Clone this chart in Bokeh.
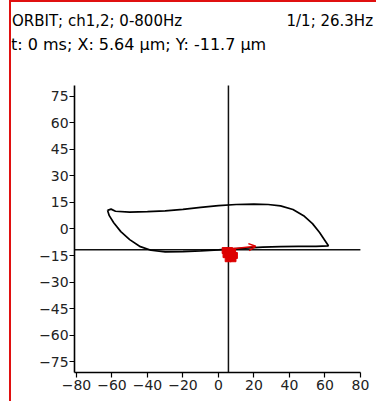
from bokeh.plotting import figure
from bokeh.models import Label, Arrow, OpenHead, FixedTicker
from bokeh.embed import file_html
from bokeh.resources import INLINE

# ---- data ----
orbit_x = [-62.5, -60.5, -58, -50, -40, -30, -20, -10, 0, 10, 20, 28, 35, 42, 48, 53, 57, 60, 62,
           55, 45, 35, 25, 15, 8, 0, -10, -20, -30, -38, -44, -50, -55, -59, -61.5, -62.5]
orbit_y = [10.5, 11.2, 10, 9.5, 9.8, 10.2, 11, 12.2, 13.2, 13.8, 14, 13.8, 13, 11, 7.5, 3, -2, -6.5, -9.5,
           -9.8, -9.8, -10, -10.2, -10.8, -11.2, -11.8, -12.4, -12.8, -12.9, -12, -10, -6, -1.5, 3.5, 7.5, 10.5]
cursor_x = 5.64
cursor_y = -11.7
blob_x = [3.8, 6.3, 8.0, 4.3, 6.8, 9.0, 5.5, 8.2]
blob_y = [-12.2, -12.2, -12.6, -14.5, -14.5, -15.0, -16.8, -16.8]
arrow_start = (8, -11.2)
arrow_end = (21, -9.8)
x_bounds = (-81, 80)
y_bounds = (-81, 81)
x_ticks = [-80, -60, -40, -20, 0, 20, 40, 60, 80]
y_ticks = [-75, -60, -45, -30, -15, 0, 15, 30, 45, 60, 75]
title_left = "ORBIT; ch1,2; 0-800Hz"
title_right = "1/1; 26.3Hz"
cursor_text = "t: 0 ms; X: 5.64 \u03bcm; Y: -11.7 \u03bcm"

FONT = "DejaVu Sans"
FW, FH = 367, 401

p = figure(width=FW, height=FH, output_backend="svg", toolbar_location=None,
           x_range=(-116.6, 90.2), y_range=(-98.5, 127.8),
           min_border_left=0, min_border_right=0, min_border_top=0, min_border_bottom=0)
p.outline_line_color = None
p.xgrid.visible = False
p.ygrid.visible = False

for ax in (p.xaxis[0], p.yaxis[0]):
    ax.axis_line_color = "black"
    ax.axis_line_width = 1.6
    ax.major_tick_line_color = "black"
    ax.major_tick_line_width = 1.2
    ax.major_tick_out = 5
    ax.major_tick_in = 0
    ax.minor_tick_line_color = None
    ax.major_label_text_font = FONT
    ax.major_label_text_font_size = "14px"
    ax.major_label_text_color = "#222222"
p.xaxis[0].ticker = FixedTicker(ticks=x_ticks)
p.yaxis[0].ticker = FixedTicker(ticks=y_ticks)
p.xaxis[0].bounds = x_bounds
p.yaxis[0].bounds = y_bounds
p.xaxis[0].fixed_location = y_bounds[0]
p.yaxis[0].fixed_location = x_bounds[0]
p.xaxis[0].major_label_standoff = 3
p.yaxis[0].major_label_standoff = 1

# cursor cross-hair
p.segment(x0=[cursor_x, x_bounds[0]], y0=[y_bounds[0], cursor_y],
          x1=[cursor_x, x_bounds[1]], y1=[y_bounds[1], cursor_y],
          line_color="#111111", line_width=1.5)

p.line(orbit_x, orbit_y, line_color="black", line_width=1.7)
p.scatter(blob_x, blob_y, marker="square", size=6, fill_color="#dd0000", line_color="#dd0000")
p.add_layout(Arrow(end=OpenHead(size=7, line_color="#dd0000", line_width=1.5),
                   x_start=arrow_start[0], y_start=arrow_start[1],
                   x_end=arrow_end[0], y_end=arrow_end[1],
                   line_color="#dd0000", line_width=1.5))

# Label screen units: x from frame left, y from frame bottom (frame = whole canvas)
for txt, fx, fy, fs in [(title_left, 0.5, 18.5, "15px"), (title_right, 275, 18.5, "15px"),
                        (cursor_text, -0.5, 41.5, "16px")]:
    p.add_layout(Label(x=fx, y=FH - fy, x_units="screen", y_units="screen", text=txt,
                       text_font=FONT, text_font_size=fs, text_color="black",
                       text_align="left", text_baseline="alphabetic"))

p.styles = {"margin-left": "9px", "border-left": "2px solid #e01010", "border-top": "2px solid #e01010"}

open("out.html", "w").write(file_html(p, INLINE))
